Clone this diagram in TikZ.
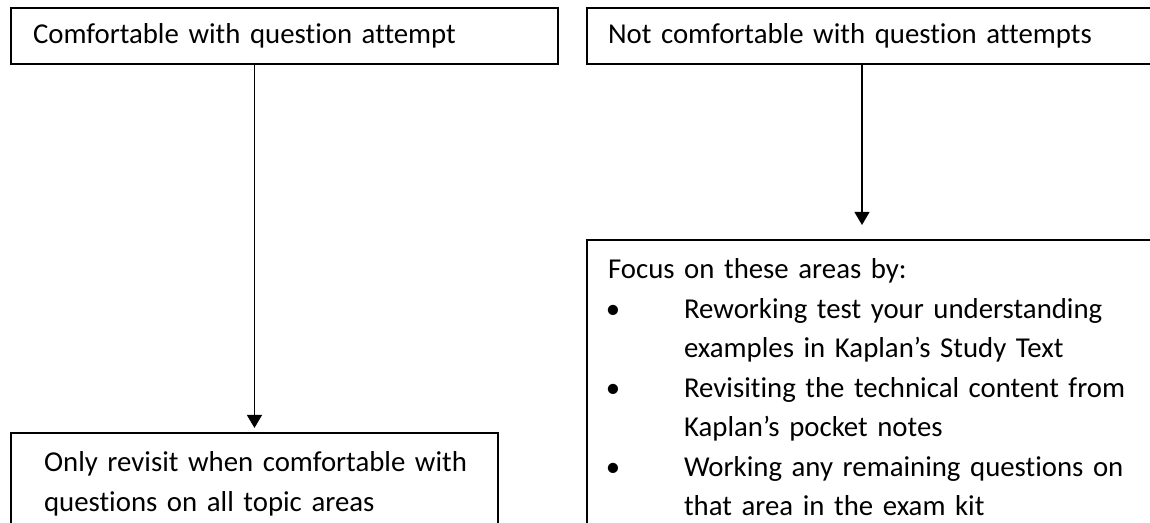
\documentclass[tikz,border=0pt]{standalone}
\usepackage{fontspec}
\setmainfont{Carlito}[Ligatures=NoCommon, WordSpace=0.85]
\usetikzlibrary{arrows.meta}
\tikzset{%
    bx/.style={draw, line width=0.75pt, anchor=north west, align=left, font=\fontsize{10.8pt}{14.8pt}\selectfont},
    bxt/.style={bx, minimum height=21pt, inner ysep=3pt},
    bxb/.style={bx, inner ysep=7pt},
    arw/.style={line width=0.6pt, -{Triangle[length=4.9pt,width=5.6pt]}},
}
\newcommand{\bitem}[2]{\hspace*{-0.8pt}\makebox[29.3pt][l]{\textbullet}#1\\\hspace*{28.5pt}#2}

\begin{document}
\begin{tikzpicture}[x=0.375pt,y=-0.375pt]
    \useasboundingbox (0,0) rectangle (1150,522);
    \clip (0,0) rectangle (1150,522);
    \node [bxt, inner xsep=8.25pt, text width=188.6pt] (comf) at (10,7) {Comfortable with question attempt};
    \node [bxt, inner xsep=7.9pt, text width=214pt] (notc) at (586,7) {Not comfortable with question attempts};
    \node [bxb, inner xsep=12.4pt, text width=157.8pt] (revis) at (10,432) {\mbox{Only revisit when comfortable with}\\\mbox{questions on all topic areas}};
    \node [bxb, inner xsep=7.9pt, text width=214pt] (focus) at (586,239) {Focus on these areas by:\\
        \bitem{Reworking test your understanding}{examples in Kaplan’s Study Text}\\
        \bitem{Revisiting the technical content from}{Kaplan’s pocket notes}\\
        \bitem{Working any remaining questions on}{that area in the exam kit}};
    \coordinate (rx) at (862,0);
    \draw [arw, shorten >=1.5pt](revis.north |- comf.south) -- (revis.north);
    \draw [arw, shorten >=5.25pt](notc.south -| rx) -- (focus.north -| rx);
\end{tikzpicture}
\end{document}
